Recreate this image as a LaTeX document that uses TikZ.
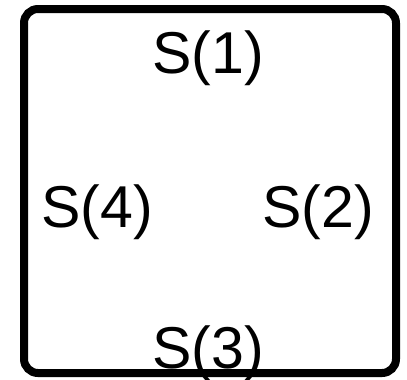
\documentclass[tikz,border=0pt]{standalone}
\usepackage{fontspec}
\setmainfont{Liberation Sans}
\usepackage{tikz}
\usetikzlibrary{positioning}

\begin{document}
\begin{tikzpicture}[x=0.25mm, y=-0.25mm, lbl/.style={anchor=base, inner sep=0pt, font=\fontsize{42}{50}\selectfont}]
  \useasboundingbox (0,0) rectangle (407,379);
  \draw[line width=2mm, rounded corners=3.5mm] (24,9) rectangle (396,373);
  \node[lbl] (s1) at (208,73) {S(1)};
  \node[lbl] (s2) at (318,227) {S(2)};
  \node[lbl] (s3) at (208,368) {S(3)};
  \node[lbl] (s4) at (97,227) {S(4)};
\end{tikzpicture}
\end{document}
